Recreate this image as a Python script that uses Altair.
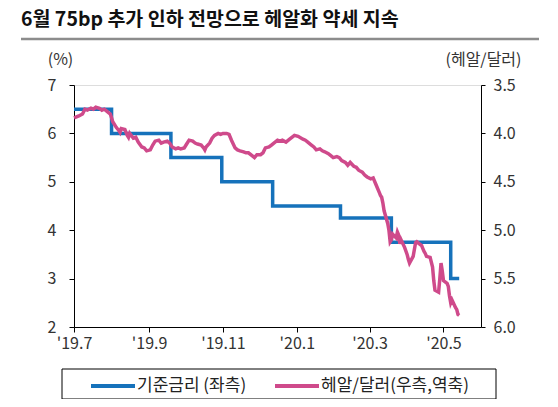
import altair as alt
import pandas as pd

FONT = "Noto Sans CJK KR"

title_text = "6월 75bp 추가 인하 전망으로 헤알화 약세 지속"
series = ["기준금리 (좌측)", "헤알/달러(우측,역축)"]
colors = ["#1672bb", "#cf4a8b"]

rate_dates = ["2019-07-01", "2019-08-01", "2019-09-19", "2019-10-31", "2019-12-12",
              "2020-02-06", "2020-03-19", "2020-05-07", "2020-05-14"]
rate_values = [6.5, 6.0, 5.5, 5.0, 4.5, 4.25, 3.75, 3.0, 3.0]

fx_dates = [
    "2019-07-01", "2019-07-03", "2019-07-05", "2019-07-08", "2019-07-10", "2019-07-12",
    "2019-07-15", "2019-07-17", "2019-07-19", "2019-07-22", "2019-07-24", "2019-07-26",
    "2019-07-29", "2019-07-31", "2019-08-02", "2019-08-05", "2019-08-07", "2019-08-08",
    "2019-08-09", "2019-08-12", "2019-08-14", "2019-08-15", "2019-08-16", "2019-08-19",
    "2019-08-21", "2019-08-23", "2019-08-26", "2019-08-28", "2019-08-30", "2019-09-02",
    "2019-09-04", "2019-09-06", "2019-09-09", "2019-09-11", "2019-09-13", "2019-09-16",
    "2019-09-18", "2019-09-20", "2019-09-23", "2019-09-25", "2019-09-27", "2019-09-30",
    "2019-10-02", "2019-10-04", "2019-10-07", "2019-10-09", "2019-10-11", "2019-10-14",
    "2019-10-16", "2019-10-17", "2019-10-18", "2019-10-21", "2019-10-23", "2019-10-25",
    "2019-10-28", "2019-10-30", "2019-11-01", "2019-11-04", "2019-11-06", "2019-11-08",
    "2019-11-11", "2019-11-13", "2019-11-15", "2019-11-18", "2019-11-20", "2019-11-22",
    "2019-11-25", "2019-11-27", "2019-11-29", "2019-12-02", "2019-12-04", "2019-12-06",
    "2019-12-09", "2019-12-11", "2019-12-13", "2019-12-16", "2019-12-18", "2019-12-20",
    "2019-12-23", "2019-12-26", "2019-12-30", "2020-01-02", "2020-01-06", "2020-01-08",
    "2020-01-10", "2020-01-13", "2020-01-15", "2020-01-17", "2020-01-20", "2020-01-22",
    "2020-01-24", "2020-01-27", "2020-01-29", "2020-01-31", "2020-02-03", "2020-02-05",
    "2020-02-07", "2020-02-10", "2020-02-12", "2020-02-14", "2020-02-17", "2020-02-19",
    "2020-02-21", "2020-02-24", "2020-02-26", "2020-02-28", "2020-03-02", "2020-03-04",
    "2020-03-06", "2020-03-09", "2020-03-10", "2020-03-11", "2020-03-12", "2020-03-13",
    "2020-03-16", "2020-03-17", "2020-03-18", "2020-03-19", "2020-03-20", "2020-03-23",
    "2020-03-24", "2020-03-25", "2020-03-26", "2020-03-27", "2020-03-30", "2020-04-01",
    "2020-04-02", "2020-04-03", "2020-04-06", "2020-04-07", "2020-04-08", "2020-04-09",
    "2020-04-13", "2020-04-14", "2020-04-15", "2020-04-16", "2020-04-17", "2020-04-20",
    "2020-04-22", "2020-04-23", "2020-04-24", "2020-04-27", "2020-04-28", "2020-04-29",
    "2020-04-30", "2020-05-01", "2020-05-04", "2020-05-05", "2020-05-06", "2020-05-07",
    "2020-05-08", "2020-05-11", "2020-05-12", "2020-05-13", "2020-05-14",
]
fx_values = [
    3.84, 3.83, 3.82, 3.80, 3.75, 3.76,
    3.74, 3.75, 3.73, 3.74, 3.76, 3.75,
    3.78, 3.80, 3.88, 3.94, 3.97, 3.99,
    3.95, 3.96, 4.02, 4.04, 4.00, 4.05,
    4.04, 4.09, 4.14, 4.15, 4.18, 4.17,
    4.12, 4.08, 4.07, 4.10, 4.09, 4.08,
    4.10, 4.14, 4.16, 4.15, 4.16, 4.15,
    4.11, 4.07, 4.08, 4.10, 4.11, 4.12,
    4.15, 4.17, 4.14, 4.10, 4.05, 4.02,
    4.00, 4.01, 4.00, 4.00, 4.01, 4.07,
    4.15, 4.17, 4.18, 4.19, 4.20, 4.20,
    4.23, 4.25, 4.22, 4.22, 4.20, 4.15,
    4.14, 4.12, 4.10, 4.07, 4.08, 4.07,
    4.09, 4.06, 4.02, 4.03, 4.06, 4.07,
    4.09, 4.12, 4.14, 4.17, 4.16, 4.18,
    4.19, 4.21, 4.23, 4.25, 4.24, 4.25,
    4.28, 4.30, 4.33, 4.30, 4.34, 4.35,
    4.38, 4.40, 4.43, 4.45, 4.47, 4.46,
    4.52, 4.61, 4.64, 4.66, 4.72, 4.80,
    4.93, 5.00, 5.12, 5.10, 5.04, 5.08,
    5.02, 5.05, 5.14, 5.10, 5.18, 5.25,
    5.30, 5.34, 5.27, 5.20, 5.13, 5.12,
    5.16, 5.19, 5.22, 5.24, 5.27, 5.28,
    5.38, 5.52, 5.62, 5.64, 5.50, 5.34,
    5.42, 5.52, 5.55, 5.58, 5.68, 5.75,
    5.72, 5.80, 5.82, 5.87, 5.88,
]

x_tick_dates = ["2019-07-01", "2019-09-01", "2019-11-01", "2020-01-01", "2020-03-01", "2020-05-01"]
x_domain = ["2019-07-01", "2020-06-01"]
left_ticks = [2, 3, 4, 5, 6, 7]
right_ticks = [3.5, 4.0, 4.5, 5.0, 5.5, 6.0]


def dt(s):
    y, m, d = map(int, s.split("-"))
    return alt.DateTime(year=y, month=m, date=d, utc=True)


rate_df = pd.DataFrame({"date": rate_dates, "value": rate_values, "series": series[0]})
fx_df = pd.DataFrame({"date": fx_dates, "value": fx_values, "series": series[1]})
one = pd.DataFrame({"k": [0]})

x_enc = alt.X(
    "date:T",
    scale=alt.Scale(type="utc", domain=[dt(s) for s in x_domain]),
    axis=alt.Axis(
        values=[dt(s) for s in x_tick_dates], format="'%y.%-m", title=None, grid=False,
        labelFlush=False, tickSize=5, labelPadding=3, labelFontSize=16, labelColor="#333333",
        domainColor="black", tickColor="black", labelFont=FONT,
    ),
)

legend = alt.Legend(
    orient="none", legendX=15, legendY=277, direction="horizontal", title=None,
    symbolType="stroke", symbolSize=1936, symbolStrokeWidth=4,
    labelFontSize=17, labelFont=FONT, labelColor="#222222",
    columnPadding=20, labelOffset=0, padding=0,
)
color_enc = alt.Color("series:N", scale=alt.Scale(domain=series, range=colors), legend=legend)

rate_line = alt.Chart(rate_df).mark_line(interpolate="step-after", strokeWidth=3.5).encode(
    x=x_enc,
    y=alt.Y(
        "value:Q",
        scale=alt.Scale(domain=[2, 7]),
        axis=alt.Axis(
            orient="left", values=left_ticks, title="(%)", titleAngle=0, titleX=-14, titleY=-26,
            titleAlign="center", titleBaseline="middle", titleFontSize=16, titleFontWeight="normal",
            titleColor="#333333", titleFont=FONT, grid=False, tickSize=5, labelPadding=13,
            labelFontSize=16, labelColor="#333333", domainColor="black", tickColor="black",
            labelFont=FONT,
        ),
    ),
    color=color_enc,
)

fx_line = alt.Chart(fx_df).mark_line(strokeWidth=3.5).encode(
    x=x_enc,
    y=alt.Y(
        "value:Q",
        scale=alt.Scale(domain=[3.5, 6.0], reverse=True),
        axis=alt.Axis(
            orient="right", values=right_ticks, format=".1f", title="(헤알/달러)", titleAngle=0,
            titleX=2, titleY=-26, titleAlign="center", titleBaseline="middle", titleFontSize=16,
            titleFontWeight="normal", titleColor="#333333", titleFont=FONT, grid=False,
            tickSize=4, labelPadding=8, labelFontSize=16, labelColor="#333333",
            domainColor="black", tickColor="black", labelFont=FONT,
        ),
    ),
    color=color_enc,
)

title_mark = alt.Chart(one).mark_text(
    text=title_text, align="left", baseline="middle", fontSize=19.5, fontWeight="bold",
    font=FONT, color="#111111",
).encode(x=alt.value(-53), y=alt.value(-65))

title_rule = alt.Chart(one).mark_rule(color="#8c8c8c", strokeWidth=2.5).encode(
    x=alt.value(-53), x2=alt.value(465), y=alt.value(-46)
)

legend_box = alt.Chart(one).mark_rect(filled=False, stroke="black", strokeWidth=1).encode(
    x=alt.value(-12), x2=alt.value(422), y=alt.value(284), y2=alt.value(314)
)

chart = (
    alt.layer(title_rule, title_mark, legend_box, rate_line, fx_line)
    .resolve_scale(y="independent")
    .properties(
        width=407, height=242, autosize="none",
        padding={"left": 66, "top": 77, "right": 69, "bottom": 72},
    )
    .configure_view(strokeWidth=0)
    .configure(font=FONT, background="white")
)

chart.save("out.html", embed_options={"renderer": "svg", "actions": False})
